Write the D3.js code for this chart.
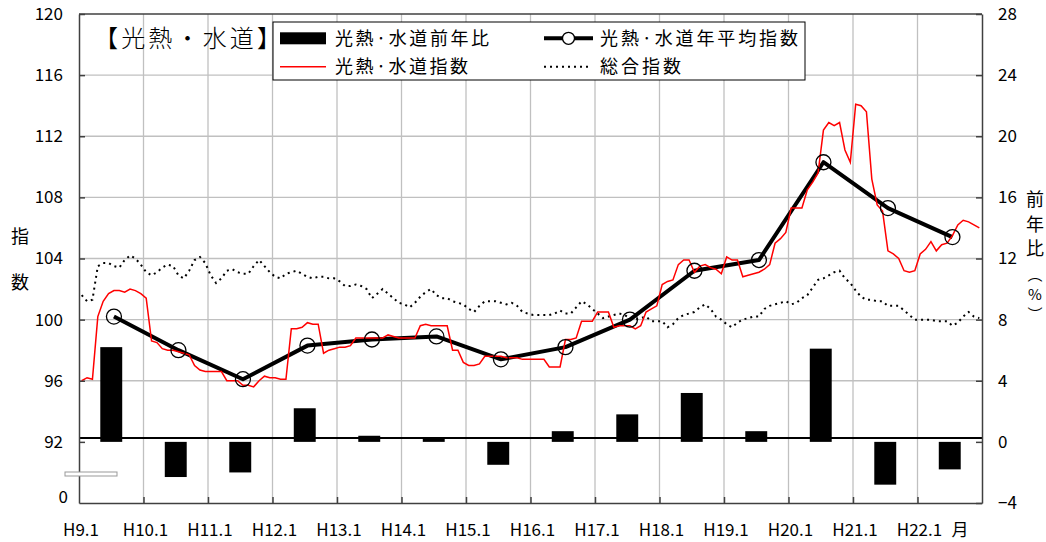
<!DOCTYPE html>
<html>
<head>
<meta charset="utf-8">
<script src="https://cdn.jsdelivr.net/npm/d3@7"></script>
<style>
    body { margin: 0; background: #fff; }
    svg { display: block; font-family: "Noto Sans CJK JP", "Noto Sans", sans-serif; }
    .grid line { stroke: #c0c0c0; stroke-width: 1.3; }
    .axis path, .axis line { stroke: #404040; stroke-width: 1.5; }
    .axis text { font-size: 17px; fill: #000; font-family: "Noto Sans CJK JP", sans-serif; }
    .lbl { font-size: 17px; fill: #000; }
</style>
</head>
<body>
<svg width="1046" height="542"></svg>
<script>
// years H9..H22, monthly values Jan..Dec
const years = ["H9", "H10", "H11", "H12", "H13", "H14", "H15", "H16", "H17", "H18", "H19", "H20", "H21", "H22"];
const yearLabels = years.map(y => y + ".1");

// 光熱・水道前年比 (%)
const yoyChange = [6.2, -2.3, -2.0, 2.2, 0.4, 0.3, -1.5, 0.7, 1.8, 3.2, 0.7, 6.1, -2.8, -1.8];

// 光熱・水道年平均指数
const annualIndex = [100.2, 98.0, 96.1, 98.3, 98.7, 98.9, 97.4, 98.2, 100.0, 103.2, 103.9, 110.3, 107.3, 105.4];

// 光熱・水道指数 (monthly)
const utilityIndex = [
    96.0, 96.2, 96.1, 100.2, 101.2, 101.7, 101.9, 101.9, 101.8, 102.0, 101.9, 101.7,
    101.4, 98.6, 98.5, 98.1, 98.0, 98.0, 97.9, 97.8, 97.7, 97.0, 96.7, 96.6,
    96.6, 96.6, 96.6, 96.0, 96.0, 96.0, 95.7, 95.7, 95.6, 96.0, 96.3, 96.2,
    96.2, 96.1, 96.1, 99.4, 99.4, 99.5, 99.8, 99.7, 99.7, 97.8, 98.0, 98.1,
    98.2, 98.2, 98.3, 98.8, 98.8, 98.8, 98.8, 98.8, 98.8, 99.0, 98.9, 98.8,
    98.8, 98.8, 98.8, 99.6, 99.7, 99.6, 99.6, 99.6, 99.6, 98.0, 98.0, 97.2,
    97.0, 97.0, 97.1, 97.6, 97.6, 97.6, 97.6, 97.5, 97.5, 97.5, 97.4, 97.4,
    97.4, 97.4, 97.4, 96.9, 96.9, 96.9, 98.7, 98.7, 98.8, 99.9, 99.9, 99.9,
    100.5, 100.5, 100.5, 99.5, 99.6, 99.6, 99.6, 99.4, 99.6, 100.5, 100.7, 100.9,
    102.3, 102.5, 102.6, 103.6, 103.9, 103.9, 103.1, 103.5, 103.6, 103.4, 103.3, 103.0,
    104.1, 103.9, 103.9, 102.8, 102.9, 103.0, 103.1, 103.3, 103.6, 105.0, 105.3, 105.7,
    107.3, 107.3, 107.3, 108.5, 109.0, 109.6, 112.4, 112.9, 112.7, 112.9, 111.1, 110.3,
    114.1, 114.0, 113.6, 109.2, 107.5, 107.1, 104.5, 104.3, 104.0, 103.2, 103.1, 103.2,
    104.3, 104.6, 105.1, 104.5, 104.9, 105.0, 105.5, 106.2, 106.5, 106.4, 106.2, 106.0
];

// 総合指数 (monthly)
const cpiIndex = [
    101.6, 101.2, 101.3, 103.5, 103.7, 103.7, 103.5, 103.4, 103.9, 104.2, 104.0, 103.6,
    103.1, 102.9, 103.1, 103.4, 103.6, 103.5, 102.9, 102.7, 103.2, 103.9, 104.1, 103.7,
    102.9, 102.4, 102.7, 103.2, 103.3, 103.1, 103.0, 103.0, 103.5, 103.9, 103.5, 103.1,
    102.8, 102.7, 103.0, 103.1, 103.2, 103.0, 102.8, 102.7, 102.8, 102.8, 102.7, 102.7,
    102.5, 102.2, 102.2, 102.3, 102.2, 102.0, 101.4, 101.7, 102.0, 101.7, 101.4, 101.1,
    101.0, 100.8, 101.1, 101.5, 101.8, 102.0, 101.6, 101.4, 101.4, 101.2, 101.1, 101.0,
    100.7, 100.5, 100.9, 101.2, 101.2, 101.2, 101.1, 101.0, 101.1, 100.9, 100.5, 100.4,
    100.3, 100.3, 100.3, 100.3, 100.4, 100.6, 100.4, 100.4, 100.8, 101.2, 101.0, 100.7,
    100.4, 100.1, 100.2, 100.3, 100.4, 100.3, 100.1, 100.0, 100.1, 100.2, 99.9, 99.9,
    99.9, 99.5, 99.7, 100.1, 100.3, 100.4, 100.5, 100.8, 101.0, 100.7, 100.2, 100.0,
    99.7, 99.5, 99.8, 100.0, 100.1, 100.2, 100.2, 100.7, 100.9, 101.0, 101.1, 101.2,
    101.0, 101.1, 101.4, 101.6, 102.1, 102.6, 102.7, 102.9, 103.1, 103.2, 102.7, 102.4,
    101.9, 101.5, 101.3, 101.3, 101.2, 101.2, 100.9, 100.9, 100.9, 100.6, 100.3, 100.0,
    100.0, 100.0, 100.0, 99.9, 99.9, 99.9, 99.6, 99.8, 100.2, 100.5, 100.2, 100.1
];

const leftTicks = [92, 96, 100, 104, 108, 112, 116, 120];
const rightTicks = [-4, 0, 4, 8, 12, 16, 20, 24, 28];
const gridTicks = [96, 100, 104, 108, 112, 116];
const zeroLineValue = 92.25;   // black base line

const months = years.flatMap(y => ["1", "2", "3", "4", "5", "6", "7", "8", "9", "10", "11", "12"].map(m => y + "." + m));

let svg = d3.select("svg"),
    margin = { top: 14, right: 64, bottom: 39, left: 79 },
    plotLeft = margin.left,
    plotRight = 1046 - margin.right,
    plotTop = margin.top,
    plotBottom = 542 - margin.bottom;

let xMonth = d3.scaleBand().domain(months).range([plotLeft, plotRight]),
    xYear = d3.scaleBand().domain(years).range([plotLeft, plotRight]).paddingInner(0.66).paddingOuter(0.33),
    xEdge = d3.scaleLinear().domain([0, years.length]).range([plotLeft, plotRight]),
    yL = d3.scaleLinear().domain([88, 120]).range([plotBottom, plotTop]),
    yR = d3.scaleLinear().domain([-4, 28]).range([plotBottom, plotTop]);

let mx = (i) => xMonth(months[i]) + xMonth.bandwidth() / 2;
// the yearly average sits on July of each year
let ax = (i) => mx(i * 12 + 6);

// grid
let grid = svg.append("g").attr("class", "grid");
grid.selectAll(".h").data(gridTicks).enter().append("line")
    .attr("x1", plotLeft).attr("x2", plotRight)
    .attr("y1", d => yL(d)).attr("y2", d => yL(d));
grid.selectAll(".v").data(d3.range(1, years.length)).enter().append("line")
    .attr("x1", d => xEdge(d)).attr("x2", d => xEdge(d))
    .attr("y1", plotTop).attr("y2", plotBottom);

// bars (right axis)
svg.append("g").selectAll("rect").data(yoyChange).enter().append("rect")
    .attr("x", (d, i) => xYear(years[i]))
    .attr("width", xYear.bandwidth())
    .attr("y", d => yR(Math.max(d, 0)))
    .attr("height", d => Math.abs(yR(d) - yR(0)))
    .attr("fill", "#000");

svg.append("line")
    .attr("x1", plotLeft).attr("x2", plotRight)
    .attr("y1", yL(zeroLineValue)).attr("y2", yL(zeroLineValue))
    .attr("stroke", "#000").attr("stroke-width", 2);

// 総合指数
let lineM = d3.line().x((d, i) => mx(i)).y(d => yL(d));
svg.append("path").datum(cpiIndex)
    .attr("d", lineM)
    .attr("fill", "none").attr("stroke", "#000")
    .attr("stroke-width", 2).attr("stroke-dasharray", "2,4");

// 年平均指数
let lineA = d3.line().x((d, i) => ax(i)).y(d => yL(d));
svg.append("path").datum(annualIndex)
    .attr("d", lineA)
    .attr("fill", "none").attr("stroke", "#000")
    .attr("stroke-width", 4).attr("stroke-linejoin", "round");

// 光熱・水道指数
svg.append("path").datum(utilityIndex)
    .attr("d", lineM)
    .attr("fill", "none").attr("stroke", "#ff0000")
    .attr("stroke-width", 1.5);

svg.append("g").selectAll("circle").data(annualIndex).enter().append("circle")
    .attr("cx", (d, i) => ax(i))
    .attr("cy", d => yL(d))
    .attr("r", 7.5)
    .attr("fill", "none").attr("stroke", "#000").attr("stroke-width", 1.3);

// axes
svg.append("g").attr("class", "axis")
    .attr("transform", "translate(" + plotLeft + ",0)")
    .call(d3.axisLeft(yL).tickValues(leftTicks).tickSize(-6).tickSizeOuter(0).tickPadding(16));
svg.append("g").attr("class", "axis")
    .attr("transform", "translate(" + plotRight + ",0)")
    .call(d3.axisRight(yR).tickValues(rightTicks).tickSize(-6).tickSizeOuter(0).tickPadding(16));
svg.append("g").attr("class", "axis")
    .attr("transform", "translate(0," + plotBottom + ")")
    .call(d3.axisBottom(xEdge).tickValues(d3.range(1, years.length)).tickSize(-6).tickSizeOuter(0).tickFormat(""));
svg.append("line")
    .attr("x1", plotLeft).attr("x2", plotRight).attr("y1", plotTop).attr("y2", plotTop)
    .attr("stroke", "#404040").attr("stroke-width", 1.5);

svg.append("text").attr("class", "lbl")
    .attr("x", plotLeft - 11).attr("y", plotBottom - 6).attr("dy", "0.35em")
    .attr("text-anchor", "end").text("0");

// axis break
svg.append("rect")
    .attr("x", 65).attr("y", 472).attr("width", 52).attr("height", 4)
    .attr("fill", "#fff").attr("stroke", "#999").attr("stroke-width", 1);

svg.append("g").selectAll("text").data(yearLabels).enter().append("text")
    .attr("class", "lbl")
    .attr("x", (d, i) => xEdge(i) + 2)
    .attr("y", 536)
    .attr("text-anchor", "middle")
    .text(d => d);
svg.append("text").attr("class", "lbl")
    .attr("x", 960).attr("y", 536).attr("text-anchor", "middle").text("月");

// axis titles
[["指", 237], ["数", 283]].forEach(c => {
    svg.append("text").attr("class", "lbl").style("font-size", "18px")
        .attr("x", 20).attr("y", c[1]).attr("dy", "0.36em")
        .attr("text-anchor", "middle").text(c[0]);
});
[["前", 200, 18], ["年", 225, 18], ["比", 249, 18], ["\uFE35", 275, 15], ["%", 295, 15], ["\uFE36", 315, 15]].forEach(c => {
    svg.append("text").attr("class", "lbl").style("font-size", c[2] + "px")
        .attr("x", 1035).attr("y", c[1]).attr("dy", "0.36em")
        .attr("text-anchor", "middle").text(c[0]);
});

// title
svg.append("text")
    .attr("x", 94).attr("y", 47)
    .attr("textLength", 187).attr("lengthAdjust", "spacing")
    .style("font-size", "24px").style("font-weight", 300)
    .text("【光熱・水道】");

// legend
let legend = svg.append("g");
legend.append("rect")
    .attr("x", 273).attr("y", 22).attr("width", 532).attr("height", 58)
    .attr("fill", "#fff").attr("stroke", "#000").attr("stroke-width", 1);
let row1 = 38.3, row2 = 66.7;
legend.append("rect").attr("x", 280).attr("y", row1 - 6).attr("width", 46).attr("height", 12).attr("fill", "#000");
legend.append("line").attr("x1", 280).attr("x2", 326).attr("y1", row2).attr("y2", row2)
    .attr("stroke", "#ff0000").attr("stroke-width", 1.5);
legend.append("line").attr("x1", 544).attr("x2", 593).attr("y1", row1).attr("y2", row1)
    .attr("stroke", "#000").attr("stroke-width", 4);
legend.append("circle").attr("cx", 568.5).attr("cy", row1).attr("r", 6)
    .attr("fill", "#fff").attr("stroke", "#000").attr("stroke-width", 1.3);
legend.append("line").attr("x1", 544).attr("x2", 592).attr("y1", row2).attr("y2", row2)
    .attr("stroke", "#000").attr("stroke-width", 2).attr("stroke-dasharray", "2,4");

[["光熱·水道前年比", 335, row1, 154],
 ["光熱·水道年平均指数", 600, row1, 198],
 ["光熱·水道指数", 335, row2, 133],
 ["総合指数", 600, row2, 81]].forEach(t => {
    legend.append("text")
        .attr("x", t[1]).attr("y", t[2]).attr("dy", "0.37em")
        .attr("textLength", t[3]).attr("lengthAdjust", "spacing")
        .style("font-size", "18px")
        .text(t[0]);
});
</script>
</body>
</html>
